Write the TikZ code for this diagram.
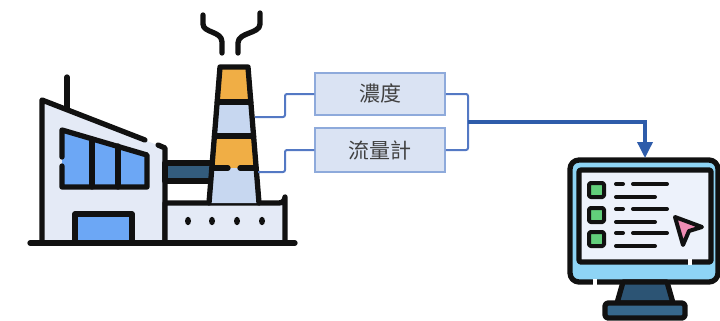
\documentclass[tikz,border=0pt]{standalone}
\usepackage{fontspec}
\newfontfamily\cjkfont{Noto Sans CJK TC}
\usetikzlibrary{arrows.meta}
\definecolor{ink}{HTML}{111111}
\definecolor{wallfill}{HTML}{E4EAF6}
\definecolor{glass}{HTML}{6CA7F5}
\definecolor{stackorange}{HTML}{F0AE45}
\definecolor{stackblue}{HTML}{C7D7F0}
\definecolor{pipeblue}{HTML}{335C7D}
\definecolor{boxfill}{HTML}{DAE3F3}
\definecolor{boxedge}{HTML}{8EAADB}
\definecolor{wire}{HTML}{5479C4}
\definecolor{trunk}{HTML}{2E5CAA}
\definecolor{bezel}{HTML}{8ED4F5}
\definecolor{screen}{HTML}{EDF2FB}
\definecolor{okgreen}{HTML}{62CF7B}
\definecolor{cursorpink}{HTML}{F08CB4}
\definecolor{standblue}{HTML}{2C5474}
\definecolor{footblue}{HTML}{37688C}
\definecolor{labeltext}{HTML}{404040}
\tikzset{
  icon/.style={draw=ink, line width=5.3pt, line join=round, line cap=round},
  thinicon/.style={draw=ink, line width=4pt, line join=round, line cap=round},
  sensorbox/.style={draw=boxedge, fill=boxfill, line width=1.5pt, minimum width=130pt,
    inner sep=0pt, text=labeltext, font=\cjkfont\fontsize{21}{24}\selectfont},
  wireline/.style={draw=wire, line width=2pt, rounded corners=2pt},
  trunkline/.style={draw=trunk, line width=3.5pt, -{Triangle[length=16pt,width=15pt]}}
}
\begin{document}
\begin{tikzpicture}[x=1pt, y=-1pt]
\useasboundingbox (0,0) rectangle (720,321);

% ---------- factory building ----------
\fill[wallfill] (42,243) -- (42,100) -- (165,148) -- (165,243) -- cycle;
\draw[icon] (42,243) -- (42,100) -- (145,140);
\draw[icon] (158,145) -- (165,148) -- (165,243);
\draw[icon] (67,77) -- (67,108);
% windows
\fill[glass] (62,130) -- (147,155) -- (147,187) -- (62,187) -- cycle;
\draw[icon] (62,157) -- (62,130) -- (147,155) -- (147,187) -- (62,187) -- (62,166);
\draw[icon] (92,139) -- (92,187);
\draw[icon] (118,146) -- (118,187);
% door
\draw[icon, fill=glass] (75,243) -- (75,214) -- (132,214) -- (132,243);

% ---------- pipe and base ----------
\draw[icon, fill=pipeblue] (165,163) rectangle (216,181);
\draw[icon, fill=wallfill] (165,243) -- (165,203) -- (279,203)
  arc[start angle=90, end angle=0, radius=6] -- (285,243);
\foreach \dx in {188,212,237,262}
  \fill[ink] (\dx,221) ellipse[x radius=3, y radius=4.2];

% ---------- chimney ----------
\fill[stackorange] (220,67) -- (248,67) -- (250.8,102) -- (217.2,102) -- cycle;
\fill[stackblue] (217.2,102) -- (250.8,102) -- (253.6,136) -- (214.4,136) -- cycle;
\fill[stackorange] (214.4,136) -- (253.6,136) -- (256.2,168) -- (211.8,168) -- cycle;
\fill[stackblue] (211.8,168) -- (256.2,168) -- (259,203) -- (209,203) -- cycle;
\draw[icon] (209,203) -- (220,67) -- (248,67) -- (259,203);
\draw[icon] (217.2,102) -- (250.8,102);
\draw[icon] (214.4,136) -- (253.6,136);
\draw[icon] (211.8,168) -- (228,168);
\draw[icon] (240,168) -- (256.2,168);
% smoke
\draw[icon] (203,15) -- (203,24) .. controls (203,33) and (222,31) .. (222,42) -- (222,53);
\draw[icon] (260,13) -- (260,24) .. controls (260,34) and (238,32) .. (238,43) -- (238,53);

% ground
\draw[icon] (30,243) -- (295,243);

% ---------- sensors ----------
\coordinate (stackA) at (255,117);
\coordinate (stackB) at (258,172);
\node[sensorbox, minimum height=42pt] (conc) at (380,94) {濃度};
\node[sensorbox, minimum height=44pt] (flow) at (380,150) {流量計};
\draw[wireline] (stackA) -- ++(30,0) |- (conc.west);
\draw[wireline] (stackB) -- ++(27,0) |- (flow.west);
\coordinate (join) at (468,122);
\draw[wireline] (conc.east) -| (join);
\draw[wireline] (flow.east) -| (join);

% ---------- monitor ----------
\draw[icon, fill=bezel, rounded corners=9pt] (570,160) rectangle (718,282);
\draw[icon, fill=screen, rounded corners=2pt] (579,170) rectangle (711,262);
\fill[white] (593,279) rectangle (597,285);
\fill[white] (688,259) rectangle (692,265);
\draw[icon, fill=standblue] (623,282) -- (667,282) -- (673,303) -- (617,303) -- cycle;
\draw[icon, fill=footblue, rounded corners=3pt] (605,303) rectangle (685,318);
% list rows
\foreach \ry in {0,25,49} {
  \draw[thinicon, fill=okgreen, rounded corners=1.5pt] (589,183+\ry) rectangle (604,197+\ry);
  \draw[thinicon] (616,184+\ry) -- (623,184+\ry);
  \draw[thinicon] (633,184+\ry) -- (667,184+\ry);
  \draw[thinicon] (616,197+\ry) -- (655,197+\ry);
}
% pointer
\draw[thinicon, fill=cursorpink] (675,217) -- (702,227) -- (689,231) -- (683,245) -- cycle;

% main link to the monitor
\coordinate (montop) at (645,158);
\draw[trunkline] (join) -| (montop);
\end{tikzpicture}
\end{document}
